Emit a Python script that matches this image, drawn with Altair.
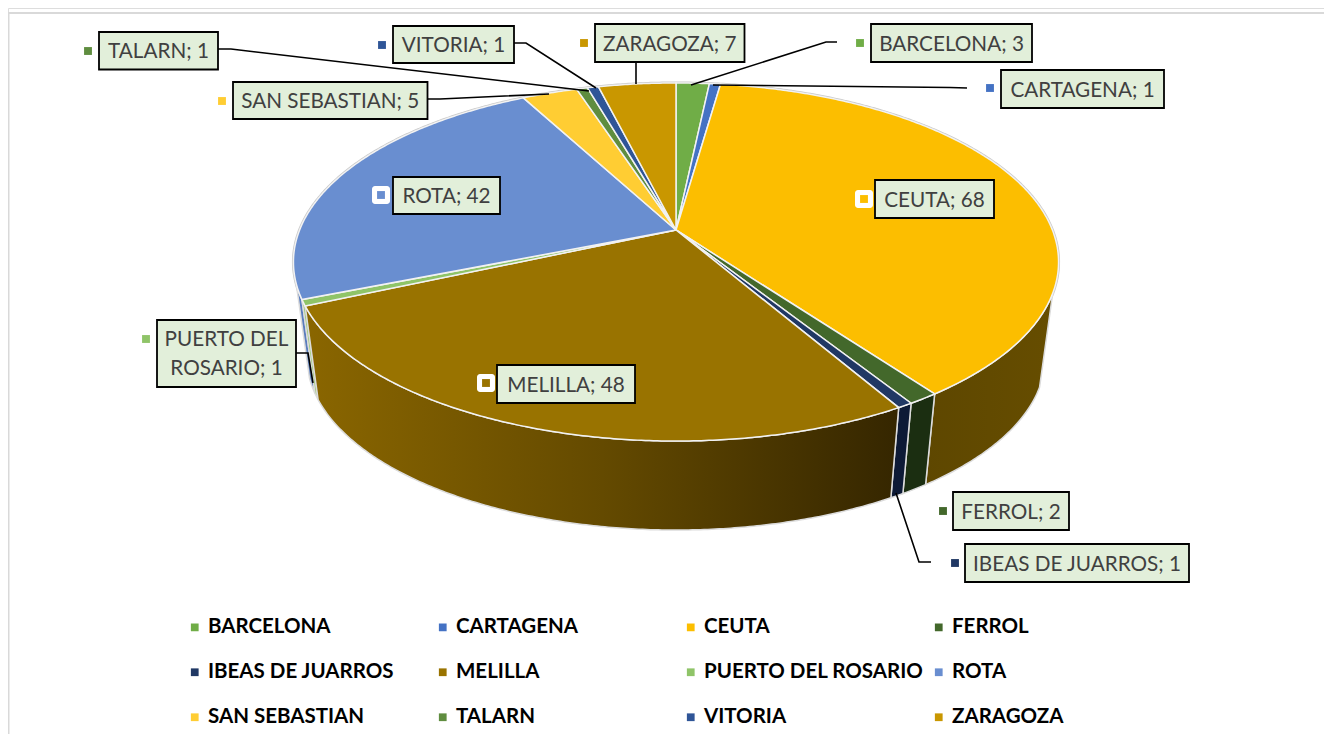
import math
import altair as alt
import pandas as pd

# ---- chart values ----
CITIES = ["BARCELONA", "CARTAGENA", "CEUTA", "FERROL", "IBEAS DE JUARROS", "MELILLA",
          "PUERTO DEL ROSARIO", "ROTA", "SAN SEBASTIAN", "TALARN", "VITORIA", "ZARAGOZA"]
VALUES = [3, 1, 68, 2, 1, 48, 1, 42, 5, 1, 1, 7]
COLORS = ["#70AD47", "#4472C4", "#FCBE00", "#43682B", "#203864", "#997300",
          "#8FC468", "#698ED0", "#FFCD33", "#5F8D3F", "#2F5597", "#C99700"]

# ---- projection of the tilted disc (style/layout) ----
CX, CY = 676.0, 230.0
A, B, K = 376.4, 173.3, 0.1788
SCALE2, CY2 = 0.965, 326.4


def top_pt(deg):
    t = math.radians(deg)
    u, v = math.sin(t), -math.cos(t)
    d = 1 - K * v
    return CX + A * u / d, CY + B * v / d


def bot_pt(deg):
    x, y = top_pt(deg)
    return CX + SCALE2 * (x - CX), CY2 + SCALE2 * (y - CY)


total = sum(VALUES)
starts, ends = [], []
acc = 0
for val in VALUES:
    starts.append(acc * 360 / total)
    acc += val
    ends.append(acc * 360 / total)


def arc_degs(a, b):
    n = max(2, int((b - a) / 0.5) + 1)
    return [a + (b - a) * i / n for i in range(n + 1)]


slice_rows, outline_rows = [], []
for name, a, b in zip(CITIES, starts, ends):
    pts = [(CX, CY)] + [top_pt(d) for d in arc_degs(a, b)] + [(CX, CY)]
    for i, (x, y) in enumerate(pts):
        slice_rows.append(dict(name=name, x=x, y=y, o=i))
for i, d in enumerate(arc_degs(0, 360)):
    x, y = top_pt(d)
    outline_rows.append(dict(x=x, y=y, o=i))


def wall(a, b):
    degs = arc_degs(a, b)
    pts = [top_pt(d) for d in degs] + [bot_pt(d) for d in reversed(degs)]
    pts.append(pts[0])
    return pd.DataFrame([dict(x=x, y=y, o=i) for i, (x, y) in enumerate(pts)])


sc = alt.Scale(domain=[8, 1324], nice=False, zero=False)
sy = alt.Scale(domain=[734, 8], nice=False, zero=False)
X = alt.X("x:Q", scale=sc, axis=None)
Y = alt.Y("y:Q", scale=sy, axis=None)
color_scale = alt.Scale(domain=CITIES, range=COLORS)
idx = {n: i for i, n in enumerate(CITIES)}

EDGE = "#DCDCDC"


def wall_layer(a, b, fill):
    return alt.Chart(wall(a, b)).mark_line(fill=fill, stroke=EDGE, strokeWidth=1.5).encode(
        x=X, y=Y, order="o:Q")


melilla_grad = alt.Gradient(
    gradient="linear", x1=0, x2=1, y1=0, y2=0,
    stops=[alt.GradientStop(offset=0, color="#8A6600"),
           alt.GradientStop(offset=0.5, color="#644A00"),
           alt.GradientStop(offset=1, color="#352600")])
ceuta_grad = alt.Gradient(
    gradient="linear", x1=0, x2=1, y1=0, y2=0,
    stops=[alt.GradientStop(offset=0, color="#5E4700"),
           alt.GradientStop(offset=1, color="#664D00")])

walls = [
    wall_layer(110, ends[idx["CEUTA"]], ceuta_grad),
    wall_layer(starts[idx["FERROL"]], ends[idx["FERROL"]], "#1B2E11"),
    wall_layer(starts[idx["IBEAS DE JUARROS"]], ends[idx["IBEAS DE JUARROS"]], "#0D1A36"),
    wall_layer(starts[idx["ROTA"]], 253, "#5A7DBE"),
    wall_layer(starts[idx["PUERTO DEL ROSARIO"]], ends[idx["PUERTO DEL ROSARIO"]], "#9BCB70"),
    wall_layer(starts[idx["MELILLA"]], ends[idx["MELILLA"]], melilla_grad),
]

LEGEND = alt.Legend(
    title=None, orient="none", legendX=176.5, legendY=609, columns=4, gridAlign="all",
    direction="horizontal", symbolType="square", symbolSize=60, labelFont="Lato",
    labelFontSize=20.5, labelFontWeight="bold", labelColor="#000000", labelOffset=3,
    labelLimit=400, rowPadding=24, columnPadding=5, padding=0, symbolOpacity=1,
    symbolStrokeWidth=0)

outline = alt.Chart(pd.DataFrame(outline_rows)).mark_line(stroke="#C9C9C9", strokeWidth=3).encode(
    x=X, y=Y, order="o:Q")

slices = alt.Chart(pd.DataFrame(slice_rows)).mark_line(
    filled=True, stroke="#F2F2F2", strokeWidth=1.5).encode(
    x=X, y=Y, order="o:Q",
    color=alt.Color("name:N", scale=color_scale, legend=LEGEND))

# ---- label layout (image pixels) ----
BOXES = {
    "TALARN": (99, 218, 32, 69.5, 88, 51),
    "VITORIA": (393, 514, 26, 63, 382, 45),
    "SAN SEBASTIAN": (233, 427.5, 82, 119, 222, 101),
    "ZARAGOZA": (595, 744.5, 24, 62, 584, 43),
    "BARCELONA": (871, 1032, 24, 62, 860, 43),
    "CARTAGENA": (1001, 1164, 70, 108, 990, 88),
    "PUERTO DEL ROSARIO": (157, 296, 320, 387, 146, 339),
    "FERROL": (953, 1069, 492, 530, 943, 511),
    "IBEAS DE JUARROS": (965, 1189, 544, 582, 955, 563),
    "CEUTA": (875, 994, 180, 218, 864, 199),
    "ROTA": (393, 500, 177, 214, 381, 195),
    "MELILLA": (497, 635, 365, 403, 486, 383),
}
BIG_KEYS = ["CEUTA", "ROTA", "MELILLA"]
rows = []
for n, (x0, x1, y0, y1, kx, ky) in BOXES.items():
    txt = f"{n}; {VALUES[idx[n]]}"
    ty = (y0 + y1) / 2 + 1.5
    if n == "PUERTO DEL ROSARIO":
        txt = "PUERTO DEL\nROSARIO; 1"
        ty = y0 + 20
    rows.append(dict(name=n, x=x0, x2=x1, y=y0, y2=y1, tx=(x0 + x1) / 2, ty=ty,
                     kx=float(kx), ky=float(ky), label=txt, big=n in BIG_KEYS))
boxdf = pd.DataFrame(rows)

LEADERS = {
    "TALARN": [(218, 49), (231, 49), (589, 91)],
    "VITORIA": [(514, 43), (526, 43), (596, 88)],
    "SAN SEBASTIAN": [(427.5, 99), (440, 99), (549, 94)],
    "ZARAGOZA": [(636, 62), (636, 84)],
    "BARCELONA": [(837, 42), (826, 42), (691, 85)],
    "CARTAGENA": [(967, 88), (950, 87.5), (713, 85)],
    "PUERTO DEL ROSARIO": [(296, 353), (308, 353), (313, 383)],
    "IBEAS DE JUARROS": [(931, 562), (919, 562), (896, 493)],
}
lead_rows = []
for n, pts in LEADERS.items():
    for i, (x, y) in enumerate(pts):
        lead_rows.append(dict(name=n, x=x, y=y, o=i))
leaders = alt.Chart(pd.DataFrame(lead_rows)).mark_line(color="#000000", strokeWidth=1.6).encode(
    x=X, y=Y, detail="name:N", order="o:Q")

boxes = alt.Chart(boxdf).mark_rect(fill="#E2EFDA", stroke="#000000", strokeWidth=1.8).encode(
    x=X, x2="x2:Q", y=Y, y2="y2:Q")

texts = alt.Chart(boxdf).mark_text(
    font="Lato", fontSize=20.7, color="#404040", lineBreak="\n", lineHeight=29,
    align="center", baseline="middle").encode(
    x=alt.X("tx:Q", scale=sc, axis=None), y=alt.Y("ty:Q", scale=sy, axis=None), text="label:N")

whitebg = alt.Chart(boxdf[boxdf.big]).transform_calculate(
    a="datum.kx-9", b="datum.kx+9", c="datum.ky-9", d="datum.ky+9").mark_rect(
    fill="#FFFFFF", cornerRadius=3).encode(
    x=alt.X("a:Q", scale=sc, axis=None), x2="b:Q",
    y=alt.Y("c:Q", scale=sy, axis=None), y2="d:Q")

keys = alt.Chart(boxdf).mark_square(size=62, opacity=1).encode(
    x=alt.X("kx:Q", scale=sc, axis=None), y=alt.Y("ky:Q", scale=sy, axis=None),
    color=alt.Color("name:N", scale=color_scale, legend=LEGEND))

frame = alt.Chart(pd.DataFrame([
    dict(name="t", x=8, y=13, o=0), dict(name="t", x=1324, y=13, o=1),
    dict(name="l", x=8.5, y=13, o=0), dict(name="l", x=8.5, y=734, o=1),
])).mark_line(color="#D9D9D9", strokeWidth=2).encode(x=X, y=Y, detail="name:N", order="o:Q")

chart = alt.layer(
    frame, outline, *walls, slices, leaders, boxes, whitebg, keys, texts
).properties(width=1316, height=726, padding=0, autosize=alt.AutoSizeParams(type="none")
).configure_view(stroke=None).configure(background="#FFFFFF")

chart.save("out.html", embed_options={"renderer": "svg", "actions": False})
